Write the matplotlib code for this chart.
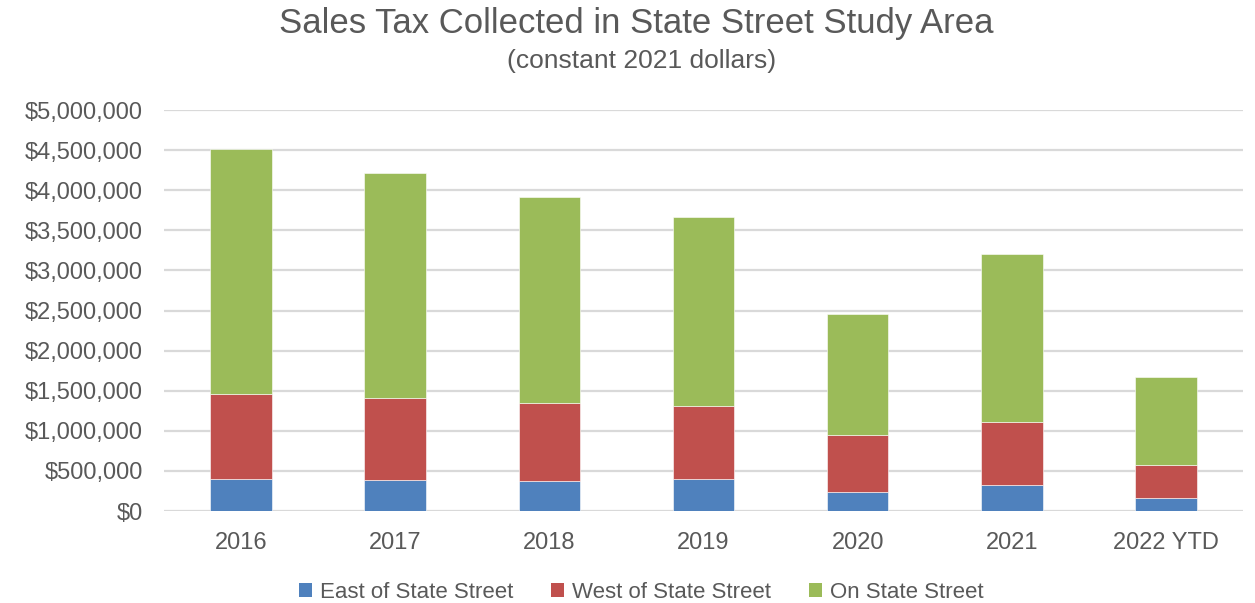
import matplotlib
matplotlib.use("Agg")
import matplotlib.pyplot as plt
from matplotlib.patches import Patch
from matplotlib.ticker import FuncFormatter
import numpy as np

categories = ["2016", "2017", "2018", "2019", "2020", "2021", "2022 YTD"]
east = [395000, 383000, 374000, 395000, 237000, 320000, 158000]
west = [1069000, 1023000, 978000, 919000, 716000, 795000, 420000]
on_state = [3046000, 2812000, 2558000, 2347000, 1505000, 2092000, 1094000]
series_names = ["East of State Street", "West of State Street", "On State Street"]
colors = ["#4F81BD", "#C0504D", "#9BBB59"]

plt.rcParams['font.family'] = ['Liberation Sans', 'DejaVu Sans']
text_color = "#595959"

fig = plt.figure(figsize=(12.55, 6.03), dpi=100)
ax = fig.add_axes([164/1255, 1 - 511/603, (1243-164)/1255, (511-110)/603])

x = np.arange(len(categories))
bottom = np.zeros(len(categories))
for vals, c in zip([east, west, on_state], colors):
    ax.bar(x, vals, width=0.4, bottom=bottom, color=c, edgecolor="white", linewidth=0.4, zorder=3)
    bottom += np.array(vals)

ax.set_xlim(-0.5, len(categories) - 0.5)
ax.set_ylim(0, 5000000)
ax.set_yticks(np.arange(0, 5000001, 500000))
ax.yaxis.set_major_formatter(FuncFormatter(lambda v, p: "${:,.0f}".format(v)))
ax.set_xticks(x)
ax.set_xticklabels(categories)
ax.grid(axis="y", color="#D9D9D9", linewidth=1.6, zorder=0)
for s in ax.spines.values():
    s.set_visible(False)
ax.tick_params(axis="both", length=0, labelsize=17, colors=text_color)
ax.tick_params(axis="y", pad=15)
ax.tick_params(axis="x", pad=15)

fig.text(0.507, 1 - 24/603, "Sales Tax Collected in State Street Study Area",
         ha="center", va="center", fontsize=25, color=text_color)
fig.text(0.511, 1 - 61/603, "(constant 2021 dollars)",
         ha="center", va="center", fontsize=19, color=text_color)

handles = [Patch(facecolor=c, edgecolor="none") for c in colors]
leg = fig.legend(handles, series_names, loc="center", bbox_to_anchor=(641/1255, 1 - 592/603),
                 ncol=3, frameon=False, fontsize=16, handlelength=0.6, handleheight=0.6,
                 handletextpad=0.35, columnspacing=1.7)
for t in leg.get_texts():
    t.set_color(text_color)

fig.savefig("out.png", dpi=100)
